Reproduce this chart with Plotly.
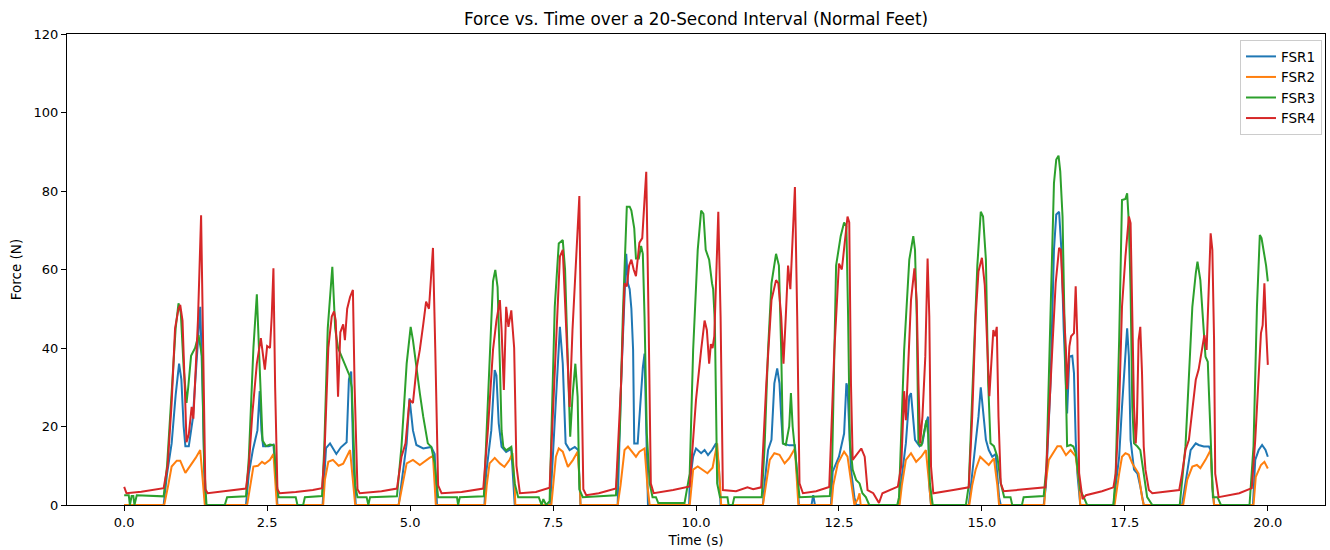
import plotly.graph_objects as go

# ---------------- data ----------------
fsr1_t = [0, 0.69, 0.75, 0.83, 0.9, 0.96, 1.0, 1.04, 1.07, 1.13, 1.2, 1.27, 1.33, 1.37, 1.41, 1.43,
          2.13, 2.18, 2.25, 2.33, 2.37, 2.40, 2.43, 2.53, 2.61, 2.65, 2.68,
          3.47, 3.53, 3.6, 3.71, 3.79, 3.89, 3.93, 3.97, 4.01, 4.05,
          4.80, 4.88, 4.94, 4.99, 5.05, 5.11, 5.23, 5.37, 5.43, 5.47,
          6.30, 6.33, 6.42, 6.48, 6.51, 6.55, 6.60, 6.68, 6.77, 6.83,
          7.45, 7.48, 7.56, 7.62, 7.67, 7.72, 7.79, 7.88, 7.94, 7.98,
          8.63, 8.69, 8.78, 8.81, 8.84, 8.87, 8.90, 8.92, 8.98, 9.01, 9.07, 9.10, 9.14, 9.16,
          9.88, 9.89, 9.95, 10.0, 10.09, 10.15, 10.21, 10.28, 10.35, 10.40, 10.43,
          11.17, 11.20, 11.26, 11.32, 11.37, 11.42, 11.46, 11.49, 11.52, 11.63, 11.73, 11.78, 11.80,
          12.02, 12.05, 12.08,
          12.36, 12.39, 12.50, 12.59, 12.63, 12.65, 12.68, 12.71, 12.77, 12.80,
          13.55, 13.58, 13.67, 13.73, 13.76, 13.80, 13.83, 13.91, 13.96, 14.02, 14.06, 14.08, 14.11,
          14.77, 14.86, 14.94, 14.98, 15.03, 15.07, 15.12, 15.18, 15.24, 15.30, 15.33,
          16.08, 16.12, 16.20, 16.26, 16.30, 16.35, 16.39, 16.43, 16.47, 16.49, 16.53, 16.58, 16.61, 16.64, 16.67, 16.72,
          17.30, 17.40, 17.45, 17.50, 17.54, 17.57, 17.60, 17.66, 17.72, 17.77, 17.83,
          18.50, 18.59, 18.65, 18.74, 18.79, 18.88, 18.97, 19.0, 19.03, 19.06,
          19.74, 19.78, 19.84, 19.90, 19.96, 20.0]
fsr1_v = [0, 0, 8, 15.7, 28, 36, 32, 20, 15, 15, 22, 36, 50.5, 30, 2, 0,
          0, 8, 14, 19, 29, 19, 15, 15, 15.4, 8, 0,
          0, 14.5, 15.7, 13, 14.7, 16, 32, 34, 10, 0,
          0, 8.9, 15.7, 27.2, 19, 15.3, 14.4, 14.8, 13, 0,
          0, 8, 19, 34.4, 33, 20.8, 14.8, 13.5, 14.3, 0,
          0, 8, 27.6, 45.4, 36, 15.7, 14, 14.8, 14, 0,
          0, 31, 64, 56.5, 55, 50, 39.5, 15.7, 15.7, 22.5, 35, 38.6, 10, 0,
          0, 5.5, 12.3, 14.4, 13.2, 14, 12.7, 14, 15.7, 10, 0,
          0, 5.5, 14, 16.6, 31, 34.8, 31, 22.5, 15.7, 15.2, 15.2, 5, 0,
          0, 2.5, 0,
          0, 8.5, 12.3, 18.2, 31, 30, 19.9, 9, 2, 0,
          0, 5, 15.7, 27.7, 28.5, 22, 16.6, 15, 15.7, 20.8, 22.5, 5, 0,
          0, 11.5, 22.5, 30, 22.5, 16.6, 14, 12.3, 13, 2, 0,
          0, 5, 31, 65, 74, 74.7, 65, 45, 28, 23.3, 37.8, 38, 33.6, 16.6, 8, 0,
          0, 12.3, 25, 37.8, 45, 37.8, 16.6, 9, 8, 4.7, 0,
          0, 8, 14, 15.7, 15.3, 14.9, 14.9, 14, 4.7, 0,
          0, 11.5, 14, 15.3, 14, 12.3]

fsr2_t = [0, 0.70, 0.77, 0.83, 0.92, 0.98, 1.07, 1.16, 1.25, 1.33, 1.38, 1.41,
          2.15, 2.2, 2.26, 2.34, 2.41, 2.46, 2.55, 2.61, 2.64, 2.67,
          3.48, 3.51, 3.57, 3.65, 3.75, 3.83, 3.95, 4.0, 4.04,
          4.80, 4.86, 4.94, 5.05, 5.17, 5.34, 5.40, 5.43, 5.45,
          6.31, 6.34, 6.39, 6.48, 6.57, 6.65, 6.74, 6.79, 6.83, 6.84,
          7.47, 7.50, 7.55, 7.60, 7.67, 7.76, 7.85, 7.93, 7.97, 7.98,
          8.63, 8.68, 8.75, 8.81, 8.90, 8.95, 9.01, 9.10, 9.15, 9.19,
          9.89, 9.92, 9.95, 10.03, 10.12, 10.20, 10.29, 10.37, 10.42, 10.44,
          11.17, 11.22, 11.29, 11.37, 11.46, 11.55, 11.63, 11.73, 11.77, 11.79,
          12.37, 12.40, 12.48, 12.59, 12.65, 12.71, 12.77, 12.83, 12.86, 12.88,
          13.56, 13.60, 13.67, 13.76, 13.85, 13.94, 14.02, 14.08, 14.11,
          14.78, 14.83, 14.89, 14.97, 15.06, 15.12, 15.21, 15.27, 15.30,
          16.09, 16.11, 16.17, 16.32, 16.38, 16.47, 16.55, 16.64, 16.70, 16.72,
          17.32, 17.40, 17.45, 17.51, 17.57, 17.63, 17.69, 17.74, 17.80, 17.83,
          18.52, 18.59, 18.68, 18.76, 18.82, 18.91, 19.0, 19.03, 19.06,
          19.75, 19.79, 19.88, 19.94, 20.0]
fsr2_v = [0, 0, 5, 9.8, 11.3, 11.3, 8.2, 10, 12, 14, 5, 0,
          0, 5, 9.8, 10, 11, 10.5, 11.5, 13, 5, 0,
          0, 6.4, 11, 11.5, 10, 10.5, 14, 5, 0,
          0, 5, 10.6, 11.5, 10.2, 12, 12.5, 5, 0,
          0, 5, 10.6, 12, 10.6, 9.7, 11.5, 13.2, 5, 0,
          0, 5, 12.3, 14.4, 13.6, 9.7, 11.5, 13.6, 5, 0,
          0, 5, 14, 14.9, 13.2, 12.3, 13.6, 14.4, 5, 0,
          0, 5, 9, 9.8, 9, 8.1, 9.5, 15.7, 5, 0,
          0, 5, 11.5, 13.2, 12.8, 10.6, 11.9, 14.4, 5, 0,
          0, 5, 10.6, 13.6, 12.3, 6.4, 0, 1.5, 3, 0,
          0, 5, 11.5, 13.2, 11, 12.3, 14, 5, 0,
          0, 5, 9, 12.3, 11, 10.2, 11.9, 5, 0,
          0, 5, 11.5, 15, 15, 12.7, 14, 12.4, 5.5, 0,
          0, 8, 12.3, 13.2, 12.8, 10.6, 9.2, 8, 2, 0,
          0, 6.4, 9.8, 10.2, 9.4, 11.5, 14, 5, 0,
          0, 7.2, 10.2, 11, 9.3]

fsr3_t = [0.0, 0.08, 0.1, 0.13, 0.16, 0.18, 0.22, 0.5, 0.69, 0.75, 0.83, 0.9, 0.95, 0.99, 1.04, 1.09,
          1.12, 1.17, 1.24, 1.30, 1.36, 1.40, 1.44, 1.76, 1.80,
          2.13, 2.18, 2.26, 2.32, 2.36, 2.42, 2.48, 2.55, 2.62, 2.67, 2.70, 3.0, 3.03, 3.13, 3.16,
          3.46, 3.5, 3.56, 3.64, 3.69, 3.74, 3.83, 3.88, 3.94, 3.98, 4.04, 4.08, 4.24, 4.27, 4.30,
          4.77, 4.85, 4.94, 5.01, 5.05, 5.11, 5.17, 5.23, 5.31, 5.37, 5.43, 5.49, 5.82, 5.84, 5.87,
          6.29, 6.33, 6.39, 6.45, 6.49, 6.53, 6.57, 6.60, 6.63, 6.68, 6.77, 6.83, 6.89, 7.25, 7.3, 7.33, 7.38,
          7.44, 7.53, 7.60, 7.67, 7.71, 7.76, 7.80, 7.84, 7.89, 7.93, 7.96, 8.02, 8.6,
          8.67, 8.72, 8.79, 8.84, 8.87, 8.92, 8.95, 9.0, 9.04, 9.07, 9.10, 9.14, 9.19, 9.24, 9.30, 9.34,
          9.8, 9.89, 9.95, 10.03, 10.09, 10.13, 10.17, 10.23, 10.28, 10.30, 10.33, 10.37, 10.42,
          10.55, 10.57, 10.64, 10.67,
          11.15, 11.2, 11.26, 11.32, 11.40, 11.45, 11.49, 11.52, 11.57, 11.63, 11.66, 11.69, 11.72, 11.78, 11.81,
          12.34, 12.38, 12.45, 12.53, 12.59, 12.63, 12.66, 12.69, 12.74, 12.80, 12.86, 12.91, 12.97, 13.03,
          13.52, 13.55, 13.64, 13.73, 13.80, 13.83, 13.86, 13.89, 13.94, 13.98, 14.03, 14.06, 14.09, 14.14,
          14.72, 14.77, 14.86, 14.92, 14.98, 15.02, 15.07, 15.11, 15.15, 15.21, 15.27, 15.33, 15.39,
          15.50, 15.53, 15.70, 15.73,
          16.08, 16.13, 16.18, 16.22, 16.26, 16.30, 16.34, 16.37, 16.41, 16.44, 16.47, 16.49, 16.55,
          16.60, 16.64, 16.67, 16.72, 16.78, 16.84,
          17.30, 17.34, 17.40, 17.45, 17.51, 17.54, 17.57, 17.60, 17.63, 17.66, 17.72, 17.77, 17.83, 17.89, 17.98,
          18.46, 18.56, 18.62, 18.68, 18.74, 18.77, 18.82, 18.85, 18.88, 18.91, 18.95, 18.98, 19.01, 19.04,
          19.12, 19.18, 19.68, 19.75, 19.81, 19.86, 19.89, 19.94, 19.97, 20.0]
fsr3_v = [2.5, 2.5, 0, 2.3, 2.3, 0, 2.5, 2.3, 2.2, 10, 30, 45, 51.4, 49, 35, 26,
          30, 38, 40, 43.3, 38, 10, 0, 0, 2,
          2.2, 12, 40, 53.7, 40, 16.4, 15, 15.4, 15.2, 5, 2, 2, 0, 0, 2,
          2.3, 15, 45, 60.7, 45, 40, 37, 35, 33, 30, 5, 2, 2, 0, 2,
          2.2, 15, 36, 45.4, 42, 34.5, 28.5, 22.5, 15.7, 14.8, 10.6, 2, 2, 0, 2,
          2.2, 15, 36, 57, 59.9, 55.5, 36, 19, 14.8, 13.9, 14.8, 5.5, 2, 2, 0, 1.5, 0,
          1, 50.5, 66.6, 67.5, 60, 36, 17.4, 27.6, 36, 27.6, 4, 2, 2.5,
          20, 48, 76, 76, 75, 70.5, 62.8, 62.8, 66, 64, 48, 18.2, 5.5, 2, 2, 0.5,
          0.5, 8, 39.5, 65, 75, 74.2, 65, 62.5, 56.5, 55, 46.4, 5.5, 2,
          2, 0, 0, 2,
          2, 15, 39.5, 56.5, 64, 61, 39.5, 15.7, 15.3, 20, 28.5, 20, 15.7, 5.5, 2,
          2.3, 10, 61, 68.5, 72, 71, 48, 16.6, 9, 6.4, 5.5, 3, 2, 0,
          0, 2, 39.5, 62.5, 68.5, 65, 48, 15.7, 15, 18, 21.6, 18, 5.5, 0,
          0, 5, 40, 61, 74.7, 73.5, 62.5, 31, 15.7, 15, 12.3, 5.5, 2,
          2, 0, 0, 2,
          2.3, 10, 40, 65, 82, 88, 89, 85, 73.5, 50, 22.5, 15, 15.3,
          14.9, 13.2, 9, 3.8, 2, 0,
          0, 8, 42, 77.7, 78, 79.4, 71.8, 54.7, 25, 15.7, 14.9, 14, 8, 2, 0,
          0, 15, 33.6, 50.5, 59, 62, 57.3, 50.5, 43.8, 37.8, 36.5, 25, 12.3, 2,
          2, 0, 0, 15, 50.5, 68.8, 68, 64, 61, 57]

fsr4_t = [0.0, 0.04, 0.3, 0.5, 0.69, 0.76, 0.83, 0.89, 0.95, 0.98, 1.02, 1.06, 1.09, 1.13, 1.18, 1.21,
          1.25, 1.29, 1.345, 1.38, 1.42, 1.46, 1.7, 2.0, 2.13,
          2.18, 2.24, 2.32, 2.39, 2.46, 2.5, 2.55, 2.58, 2.61, 2.64, 2.68, 2.72, 3.0, 3.3, 3.46,
          3.5, 3.57, 3.63, 3.67, 3.70, 3.74, 3.78, 3.83, 3.86, 3.90, 3.95, 4.0, 4.03, 4.08, 4.12, 4.5, 4.77,
          4.85, 4.92, 4.99, 5.05, 5.11, 5.17, 5.23, 5.28, 5.33, 5.40, 5.44, 5.49, 5.55, 5.9, 6.28,
          6.36, 6.45, 6.51, 6.57, 6.60, 6.64, 6.68, 6.72, 6.77, 6.82, 6.86, 6.92, 7.2, 7.44,
          7.53, 7.58, 7.62, 7.67, 7.73, 7.79, 7.84, 7.89, 7.96, 7.99, 8.03, 8.08, 8.3, 8.6,
          8.69, 8.75, 8.79, 8.83, 8.87, 8.91, 8.95, 9.01, 9.06, 9.10, 9.13, 9.17, 9.21, 9.26, 9.6, 9.89,
          9.95, 10.0, 10.09, 10.15, 10.19, 10.23, 10.26, 10.29, 10.32, 10.35, 10.39, 10.43, 10.47,
          10.7, 10.9, 11.0, 11.14,
          11.23, 11.32, 11.40, 11.44, 11.49, 11.53, 11.57, 11.61, 11.65, 11.68, 11.73, 11.77, 11.81, 11.87,
          12.1, 12.33, 12.42, 12.5, 12.55, 12.57, 12.65, 12.68, 12.71, 12.74, 12.82, 12.89, 12.95, 13.0,
          13.1, 13.2, 13.26, 13.38, 13.53,
          13.59, 13.64, 13.67, 13.70, 13.76, 13.82, 13.86, 13.89, 13.92, 13.96, 14.01, 14.05, 14.08, 14.11,
          14.15, 14.5, 14.77,
          14.83, 14.89, 14.94, 15.0, 15.05, 15.09, 15.13, 15.16, 15.20, 15.23, 15.26, 15.29, 15.33, 15.38,
          15.8, 16.11,
          16.23, 16.29, 16.35, 16.38, 16.41, 16.47, 16.49, 16.53, 16.56, 16.61, 16.64, 16.67, 16.70, 16.76,
          16.82, 17.1, 17.3,
          17.34, 17.40, 17.45, 17.51, 17.57, 17.60, 17.63, 17.66, 17.69, 17.71, 17.74, 17.77, 17.80, 17.83,
          17.86, 17.92, 17.98, 18.2, 18.45,
          18.50, 18.56, 18.62, 18.68, 18.74, 18.79, 18.85, 18.89, 18.93, 18.96, 19.0, 19.03, 19.06, 19.08,
          19.14, 19.5, 19.72,
          19.78, 19.84, 19.88, 19.91, 19.94, 19.97, 20.0]
fsr4_v = [4.6, 3.0, 3.4, 3.8, 4.3, 10, 26, 45, 50, 51, 47, 30, 16, 18, 25, 22,
          35, 47, 73.8, 40, 4, 3, 3.4, 3.8, 4.2,
          10, 23, 36, 42.5, 34.5, 40.5, 40, 48, 60.3, 30, 4, 3, 3.3, 3.8, 4.3,
          12, 40, 48, 49.3, 47, 27.6, 44, 46, 42, 50, 53, 54.8, 30, 4, 3, 3.5, 4.2,
          12.3, 15.7, 26.8, 26, 34.5, 39.5, 46, 51.8, 50, 65.5, 40, 5, 3, 3.3, 4.2,
          19, 39.5, 47, 52.2, 44.6, 29.3, 50.5, 45.4, 49.6, 40, 10, 3, 3.3, 4.4,
          36, 53, 63.3, 65, 44.6, 25, 44.6, 60, 78.7, 40, 4, 2.5, 3, 4.2,
          31, 56.5, 55.7, 61, 62.5, 60, 58.3, 66.8, 68, 77.8, 84.9, 48, 5.5, 3, 3.8, 4.7,
          18.2, 26.8, 39.5, 47, 44.6, 36, 41, 40, 43, 56.5, 74.7, 48, 3.8,
          3.5, 4.5, 4.0, 4.5,
          31, 52.2, 57.3, 56.5, 48, 36, 48, 61, 55, 65, 81, 48, 5.5, 3,
          3.5, 4.6, 39.5, 61.5, 60, 62.6, 73.5, 72, 31, 11.5, 13.2, 14.4, 12.3, 3.8,
          3, 0.5, 3, 3.8, 4.7,
          10, 29, 21.6, 31, 52.2, 60.3, 52, 31, 15.7, 22.5, 37.8, 62.8, 48, 9.8,
          3, 3.8, 4.5,
          22.5, 48, 59.5, 63, 56, 39.5, 27.7, 35, 44.6, 43, 45.4, 22.5, 5.5, 3.5,
          4, 4.5,
          39.5, 56.5, 65.5, 65, 55.7, 39.5, 29.5, 40.4, 43, 43.8, 55.7, 42, 8.1, 1.5,
          2.5, 3.5, 4.5,
          8, 25.1, 50.5, 63.3, 73.5, 71.8, 50.5, 25, 15.7, 20.8, 42, 45.4, 33.6, 14.9,
          9, 3.8, 3, 3.3, 3.8,
          8, 14, 16.6, 25, 31.9, 34.5, 40.4, 43.3, 39.5, 50.5, 69.2, 65, 42, 8,
          2, 3, 4.3,
          16.6, 33.6, 43.8, 45.8, 56.5, 45, 35.7]

series_names = ["FSR1", "FSR2", "FSR3", "FSR4"]
series_colors = ["#1f77b4", "#ff7f0e", "#2ca02c", "#d62728"]
x_ticks = [0, 2.5, 5, 7.5, 10, 12.5, 15, 17.5, 20]
x_tick_labels = ["0.0", "2.5", "5.0", "7.5", "10.0", "12.5", "15.0", "17.5", "20.0"]
y_ticks = [0, 20, 40, 60, 80, 100, 120]

# ---------------- figure ----------------
fig = go.Figure()
for name, color, t, v in zip(series_names, series_colors,
                             [fsr1_t, fsr2_t, fsr3_t, fsr4_t],
                             [fsr1_v, fsr2_v, fsr3_v, fsr4_v]):
    fig.add_trace(go.Scatter(x=t, y=v, mode="lines", name=name,
                             line=dict(color=color, width=2)))

font_family = "DejaVu Sans, Arial, sans-serif"
fig.update_layout(
    width=1330, height=550,
    margin=dict(l=67, r=5, t=34, b=45),
    paper_bgcolor="white", plot_bgcolor="white",
    font=dict(family=font_family, size=13, color="black"),
    title=dict(text="Force vs. Time over a 20-Second Interval (Normal Feet)",
               x=(67 + 1325) / 2 / 1330, xanchor="center",
               y=1 - 19 / 550, yanchor="middle", yref="container",
               font=dict(size=16.8, color="black", family=font_family)),
    showlegend=True,
    legend=dict(x=0.9976, xanchor="right", y=0.987, yanchor="top",
                bgcolor="rgba(255,255,255,0.85)", bordercolor="#cccccc", borderwidth=1,
                font=dict(size=13.5, family=font_family), tracegroupgap=0),
)
fig.update_xaxes(range=[-1, 21], tickvals=x_ticks, ticktext=x_tick_labels,
                 showline=True, linecolor="black", linewidth=1, mirror=True,
                 ticks="outside", ticklen=5, tickcolor="black", showgrid=False, zeroline=False,
                 automargin=False,
                 title=dict(text="Time (s)", standoff=6, font=dict(size=13.5)))
fig.update_yaxes(range=[0, 120], tickvals=y_ticks,
                 showline=True, linecolor="black", linewidth=1, mirror=True,
                 ticks="outside", ticklen=5, tickcolor="black", showgrid=False, zeroline=False,
                 automargin=False,
                 title=dict(text="Force (N)", standoff=8, font=dict(size=13.5)))

fig.write_html("out.html")
